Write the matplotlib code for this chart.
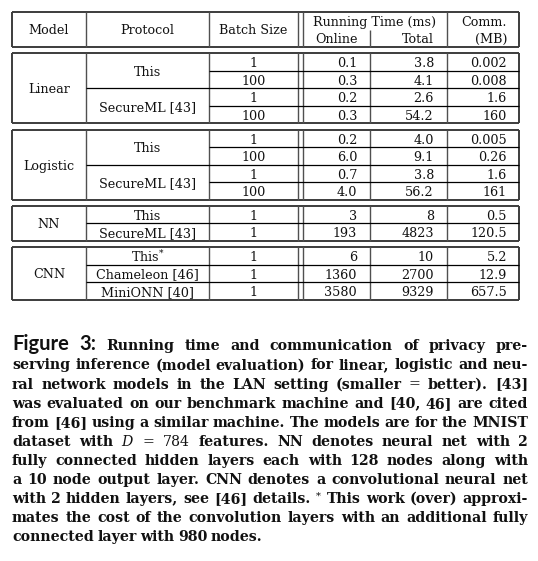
import numpy as np
import matplotlib.pyplot as plt

plt.rcParams['mathtext.fontset'] = 'dejavuserif'

# table data
models = ['Linear', 'Logistic', 'NN', 'CNN']
protocols = [['This', 'SecureML [43]'],
             ['This', 'SecureML [43]'],
             ['This', 'SecureML [43]'],
             ['This$^{*}$', 'Chameleon [46]', 'MiniONN [40]']]
batch_sizes = [[[1, 100], [1, 100]],
               [[1, 100], [1, 100]],
               [[1], [1]],
               [[1], [1], [1]]]
online_ms = [['0.1', '0.3', '0.2', '0.3'],
             ['0.2', '6.0', '0.7', '4.0'],
             ['3', '193'],
             ['6', '1360', '3580']]
total_ms = [['3.8', '4.1', '2.6', '54.2'],
            ['4.0', '9.1', '3.8', '56.2'],
            ['8', '4823'],
            ['10', '2700', '9329']]
comm_mb = [['0.002', '0.008', '1.6', '160'],
           ['0.005', '0.26', '1.6', '161'],
           ['0.5', '120.5'],
           ['5.2', '12.9', '657.5']]

caption_lines = [
    "Figure 3: Running time and communication of privacy pre-",
    "serving inference (model evaluation) for linear, logistic and neu-",
    "ral network models in the LAN setting (smaller = better). [43]",
    "was evaluated on our benchmark machine and [40, 46] are cited",
    "from [46] using a similar machine. The models are for the MNIST",
    "dataset with $D$ = 784 features. NN denotes neural net with 2",
    "fully connected hidden layers each with 128 nodes along with",
    "a 10 node output layer. CNN denotes a convolutional neural net",
    "with 2 hidden layers, see [46] details. $^{*}$ This work (over) approxi-",
    "mates the cost of the convolution layers with an additional fully",
    "connected layer with 980 nodes.",
]

W, H = 538, 561
fig = plt.figure(figsize=(W / 100, H / 100), dpi=100)
ax = fig.add_axes([0, 0, 1, 1])
ax.set_xlim(0, W)
ax.set_ylim(H, 0)
ax.axis('off')

# column edges (px)
xl, xm, xp, xd1, xd2, xon, xtot, xr = 12, 86, 209, 298, 303, 370, 447, 519
row_h = 17.5
gap = 6.3
edge = '#3c3c3c'
tfont = dict(fontfamily='DejaVu Serif', fontsize=9.2, color='#111111')


def hline(y, x0, x1, lw=0.9, c='black'):
    ax.plot([x0, x1], [y, y], color=c, lw=lw, solid_capstyle='butt')


def vline(x, y0, y1, lw=1.0, c='#505050'):
    ax.plot([x, x], [y0, y1], color=c, lw=lw, solid_capstyle='butt')


def box(y0, y1):
    hline(y0, xl, xr, lw=1.4, c=edge)
    hline(y1, xl, xr, lw=1.4, c=edge)
    vline(xl, y0, y1, lw=1.4, c=edge)
    vline(xr, y0, y1, lw=1.4, c=edge)


# header
ht, hb = 12, 47
box(ht, hb)
for x in (xm, xp, xd1, xd2, xtot):
    vline(x, ht, hb)
vline(xon, 30, hb)
hm = (ht + hb) / 2 - 0.5
ax.text((xl + xm) / 2, hm, 'Model', ha='center', va='center_baseline', **tfont)
ax.text((xm + xp) / 2, hm, 'Protocol', ha='center', va='center_baseline', **tfont)
ax.text((xp + xd1) / 2, hm, 'Batch Size', ha='center', va='center_baseline', **tfont)
ax.text(374.5, 20.5, 'Running Time (ms)', ha='center', va='center_baseline', **tfont)
ax.text((xd2 + xon) / 2, 38, 'Online', ha='center', va='center_baseline', **tfont)
ax.text(434, 38, 'Total', ha='right', va='center_baseline', **tfont)
ax.text(507, 20.5, 'Comm.', ha='right', va='center_baseline', **tfont)
ax.text(507, 38, '(MB)', ha='right', va='center_baseline', **tfont)

# blocks
top = hb + gap
for b, model in enumerate(models):
    n_rows = sum(len(g) for g in batch_sizes[b])
    bot = top + n_rows * row_h
    box(top, bot)
    for x in (xm, xp, xd1, xd2, xon, xtot):
        vline(x, top, bot)
    ax.text((xl + xm) / 2, (top + bot) / 2, model, ha='center', va='center_baseline', **tfont)
    r = 0
    for p, prot in enumerate(protocols[b]):
        g = batch_sizes[b][p]
        gy0 = top + r * row_h
        gy1 = gy0 + len(g) * row_h
        ax.text((xm + xp) / 2, (gy0 + gy1) / 2, prot, ha='center', va='center_baseline', **tfont)
        if p > 0:
            hline(gy0, xm, xr)
        for k, bs in enumerate(g):
            ry = top + r * row_h
            if k > 0:
                hline(ry, xp, xr)
            yc = ry + row_h / 2 + 0.3
            ax.text((xp + xd1) / 2, yc, str(bs), ha='center', va='center_baseline', **tfont)
            ax.text(357, yc, online_ms[b][r], ha='right', va='center_baseline', **tfont)
            ax.text(434, yc, total_ms[b][r], ha='right', va='center_baseline', **tfont)
            ax.text(507, yc, comm_mb[b][r], ha='right', va='center_baseline', **tfont)
            r += 1
    top = bot + gap

# caption, justified line by line
fig.canvas.draw()
renderer = fig.canvas.get_renderer()
cap_l, cap_r = 12, 528
base0, leading = 350.3, 19.1
for i, line in enumerate(caption_lines):
    y = base0 + i * leading
    words = line.split(' ')
    texts = []
    for j, w in enumerate(words):
        kw = dict(fontfamily='DejaVu Serif', fontweight='bold', fontsize=10.2)
        if i == 0 and j < 2:
            kw = dict(fontfamily='Lato', fontweight='bold', fontsize=14.5)
        elif w in ('$D$', '=', '784', '$^{*}$'):
            kw['fontweight'] = 'normal'
        texts.append(ax.text(0, y, w, ha='left', va='baseline', color='#111111', **kw))
    widths = [t.get_window_extent(renderer).width for t in texts]
    if i < len(caption_lines) - 1 and len(words) > 1:
        sp = (cap_r - cap_l - sum(widths)) / (len(words) - 1)
    else:
        sp = 3.6
    x = cap_l
    for t, w in zip(texts, widths):
        t.set_x(x)
        x += w + sp

fig.savefig('out.png', dpi=100, facecolor='white')
